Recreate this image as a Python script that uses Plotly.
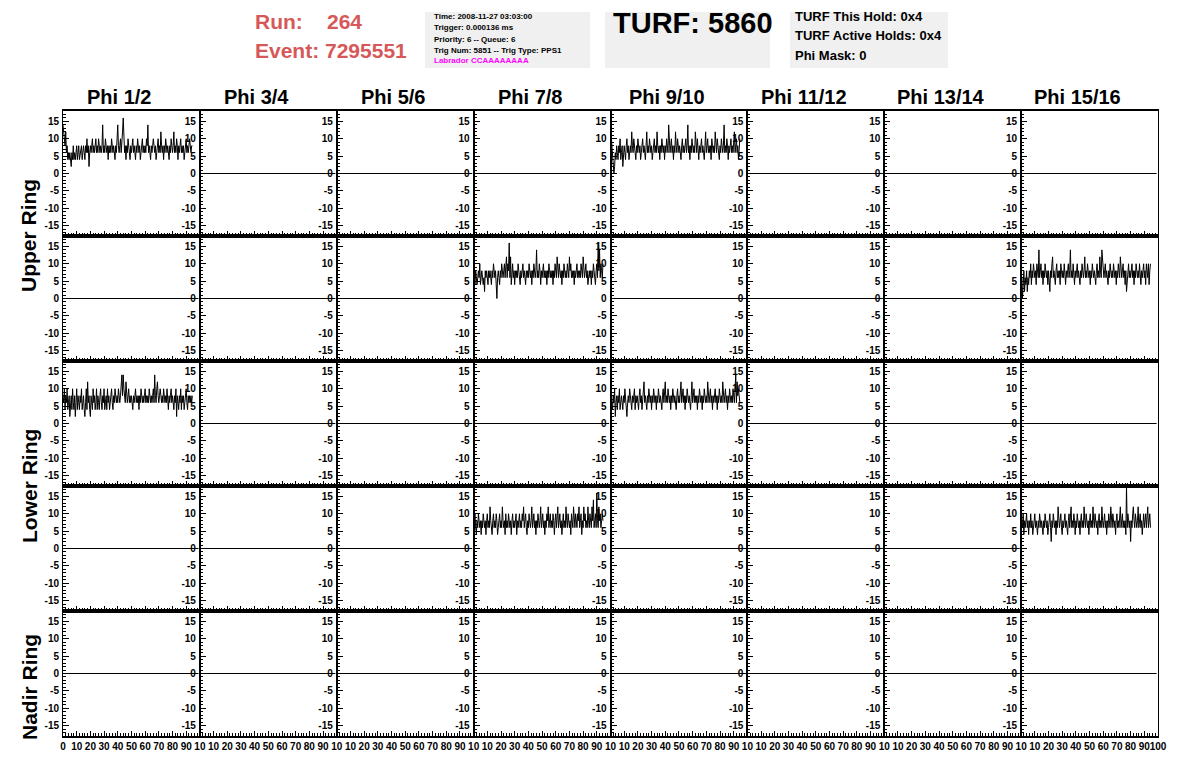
import plotly.graph_objects as go
from plotly.subplots import make_subplots

# ---------------- data ----------------
phi_labels = ["Phi 1/2", "Phi 3/4", "Phi 5/6", "Phi 7/8",
              "Phi 9/10", "Phi 11/12", "Phi 13/14", "Phi 15/16"]
ring_labels = ["Upper Ring", "Lower Ring", "Nadir Ring"]
x_tick_vals = [0, 10, 20, 30, 40, 50, 60, 70, 80, 90, 100]
y_tick_vals = [-15, -10, -5, 0, 5, 10, 15]
y_tick_text = ["-15", "-10", "-5", "0", "5", "10", "15"]
sample_step = 0.5  # horizontal units per sample

wave_upper_a_phi1 = [
    14, 12, 10, 8, 12, 6, 8, 4, 6, 4,
    6, 4, 2, 6, 4, 8, 4, 6, 4, 6,
    8, 4, 6, 8, 4, 6, 6, 8, 4, 6,
    8, 6, 4, 8, 6, 10, 6, 8, 2, 6,
    8, 6, 8, 10, 6, 8, 6, 8, 10, 6,
    8, 6, 10, 8, 6, 8, 6, 8, 14, 6,
    8, 6, 10, 8, 6, 8, 4, 8, 6, 8,
    6, 10, 8, 6, 8, 6, 4, 8, 6, 10,
    14, 8, 6, 8, 10, 6, 8, 12, 16, 8,
    6, 8, 4, 8, 6, 10, 8, 6, 4, 8,
    6, 8, 10, 6, 8, 6, 4, 8, 6, 10,
    8, 6, 8, 4, 6, 8, 10, 6, 8, 6,
    8, 6, 10, 8, 14, 6, 8, 6, 4, 8,
    6, 8, 10, 8, 6, 8, 4, 6, 8, 10,
    6, 8, 6, 12, 8, 6, 8, 4, 8, 6,
    10, 8, 6, 8, 6, 4, 8, 6, 10, 8,
    6, 8, 12, 6, 8, 6, 10, 8, 4, 8,
    6, 8, 10, 6, 8, 6, 8, 4, 6, 8,
    10, 6, 8, 6, 8, 10, 8, 6, 8, 8]
wave_upper_a_phi9 = [
    10, 12, 8, 6, 4, 0, 2, 6, 4, 8,
    6, 4, 8, 6, 10, 4, 6, 8, 2, 6,
    8, 6, 4, 8, 10, 6, 8, 4, 6, 8,
    6, 12, 8, 6, 10, 8, 6, 4, 8, 6,
    10, 8, 6, 8, 4, 6, 8, 10, 6, 8,
    6, 4, 8, 12, 6, 8, 6, 10, 8, 6,
    8, 4, 6, 8, 10, 6, 8, 6, 12, 8,
    6, 8, 4, 8, 6, 10, 8, 6, 8, 4,
    8, 6, 10, 8, 6, 14, 8, 6, 8, 10,
    6, 8, 4, 8, 6, 12, 8, 6, 10, 8,
    6, 8, 6, 4, 8, 10, 6, 8, 6, 8,
    10, 6, 8, 14, 6, 8, 4, 8, 6, 10,
    8, 6, 8, 6, 12, 8, 6, 10, 8, 4,
    8, 6, 8, 10, 6, 8, 6, 4, 8, 12,
    6, 8, 10, 6, 8, 6, 8, 4, 10, 8,
    6, 8, 6, 12, 8, 6, 10, 8, 6, 4,
    8, 6, 10, 8, 6, 8, 14, 6, 8, 6,
    10, 8, 4, 8, 6, 8, 10, 6, 8, 6,
    8, 12, 6, 8, 10, 6, 8, 4, 8, 10]
wave_upper_b_phi7 = [
    8, 6, 4, 8, 6, 4, 6, 8, 6, 10,
    4, 6, 8, 6, 4, 6, 2, 8, 6, 8,
    6, 4, 8, 6, 8, 6, 4, 8, 6, 10,
    8, 6, 8, 4, 0, 6, 8, 6, 4, 8,
    6, 10, 8, 6, 8, 10, 6, 8, 12, 6,
    10, 8, 16, 6, 12, 4, 8, 10, 6, 8,
    4, 8, 6, 8, 6, 10, 8, 6, 4, 8,
    6, 8, 10, 6, 8, 6, 4, 8, 6, 8,
    6, 10, 8, 6, 8, 4, 8, 6, 10, 8,
    6, 8, 14, 6, 8, 6, 10, 8, 4, 8,
    6, 8, 10, 6, 8, 6, 8, 4, 8, 6,
    10, 8, 6, 8, 6, 8, 4, 8, 6, 10,
    8, 6, 12, 8, 6, 10, 8, 6, 8, 4,
    8, 6, 10, 8, 6, 8, 6, 10, 8, 6,
    12, 8, 10, 6, 8, 6, 8, 4, 8, 6,
    8, 10, 6, 8, 6, 8, 6, 10, 8, 6,
    12, 8, 6, 8, 10, 6, 8, 4, 6, 8,
    6, 8, 4, 8, 6, 10, 8, 6, 4, 8,
    10, 6, 16, 8, 14, 6, 10, 8, 6, 10]
wave_upper_b_phi15 = [
    2, 6, 0, 4, 8, 2, 6, 4, 8, 2,
    6, 4, 8, 6, 10, 4, 8, 6, 10, 8,
    6, 8, 4, 10, 8, 6, 14, 6, 8, 10,
    6, 8, 4, 8, 6, 10, 8, 6, 8, 4,
    8, 6, 2, 8, 6, 10, 12, 6, 8, 6,
    4, 8, 10, 6, 8, 6, 8, 4, 10, 8,
    6, 8, 6, 10, 8, 4, 8, 6, 8, 10,
    6, 8, 14, 6, 8, 6, 10, 8, 4, 8,
    6, 8, 10, 6, 8, 6, 4, 8, 6, 10,
    8, 6, 8, 12, 6, 8, 6, 10, 8, 6,
    8, 4, 8, 6, 10, 8, 6, 8, 6, 4,
    8, 10, 6, 8, 6, 12, 8, 6, 14, 10,
    8, 6, 8, 10, 6, 8, 6, 4, 8, 6,
    10, 8, 6, 8, 6, 10, 8, 6, 8, 4,
    8, 6, 10, 8, 6, 12, 8, 6, 8, 10,
    6, 8, 4, 8, 2, 6, 8, 10, 6, 8,
    6, 8, 10, 6, 8, 4, 8, 6, 10, 8,
    6, 8, 6, 10, 8, 4, 8, 6, 8, 10,
    6, 8, 4, 10, 8, 6, 10, 4, 8, 10]
wave_lower_a_phi1 = [
    8, 6, 10, 4, 8, 6, 10, 4, 6, 8,
    2, 6, 8, 4, 10, 6, 4, 8, 2, 6,
    10, 4, 8, 6, 4, 8, 6, 10, 4, 6,
    8, 4, 2, 6, 10, 4, 12, 6, 8, 4,
    2, 8, 6, 4, 10, 6, 8, 4, 6, 10,
    4, 8, 6, 4, 8, 10, 6, 4, 8, 6,
    10, 4, 6, 8, 4, 10, 6, 8, 4, 6,
    8, 10, 6, 4, 8, 6, 10, 8, 6, 8,
    6, 10, 8, 6, 8, 10, 14, 8, 14, 10,
    8, 6, 12, 8, 6, 8, 10, 6, 8, 6,
    8, 6, 4, 8, 6, 8, 10, 6, 8, 6,
    8, 4, 8, 6, 10, 8, 6, 8, 6, 8,
    10, 6, 8, 6, 8, 6, 10, 8, 6, 8,
    6, 8, 10, 6, 14, 8, 6, 10, 12, 8,
    6, 8, 10, 8, 6, 8, 6, 10, 8, 6,
    8, 6, 10, 8, 4, 8, 6, 8, 10, 6,
    8, 6, 4, 8, 6, 10, 2, 8, 6, 4,
    8, 6, 10, 4, 8, 6, 8, 4, 6, 8,
    10, 6, 4, 8, 6, 8, 6, 8, 6, 8]
wave_lower_a_phi9 = [
    10, 8, 6, 4, 8, 6, 10, 2, 6, 8,
    4, 8, 6, 10, 4, 6, 8, 6, 4, 8,
    6, 10, 8, 4, 2, 6, 8, 6, 10, 8,
    6, 4, 8, 6, 8, 10, 4, 8, 6, 8,
    6, 4, 8, 10, 6, 8, 4, 6, 8, 12,
    6, 8, 6, 4, 8, 6, 10, 8, 6, 8,
    4, 8, 6, 10, 8, 6, 8, 4, 8, 6,
    10, 8, 6, 8, 6, 4, 8, 10, 6, 8,
    12, 6, 8, 6, 10, 8, 6, 8, 4, 8,
    6, 10, 8, 6, 8, 6, 4, 8, 10, 6,
    8, 6, 8, 12, 6, 8, 10, 6, 8, 4,
    8, 6, 10, 8, 6, 8, 6, 4, 8, 12,
    6, 8, 10, 6, 8, 6, 8, 4, 8, 6,
    10, 8, 6, 8, 4, 8, 6, 10, 8, 6,
    8, 6, 12, 8, 6, 8, 10, 6, 8, 4,
    8, 6, 8, 10, 6, 8, 4, 8, 6, 10,
    8, 6, 8, 6, 12, 8, 6, 8, 10, 6,
    8, 4, 8, 6, 10, 8, 6, 8, 6, 10,
    8, 6, 10, 14, 6, 12, 8, 10, 8, 6]
wave_lower_b_phi7 = [
    6, 8, 10, 6, 4, 8, 6, 10, 8, 6,
    8, 4, 8, 6, 10, 8, 6, 8, 4, 8,
    10, 6, 8, 6, 12, 8, 6, 4, 8, 10,
    6, 8, 6, 10, 8, 4, 6, 8, 10, 6,
    8, 6, 12, 8, 6, 8, 4, 10, 6, 8,
    6, 10, 8, 6, 8, 4, 8, 10, 6, 8,
    6, 8, 10, 4, 8, 6, 8, 10, 6, 8,
    6, 10, 8, 12, 6, 8, 10, 6, 4, 8,
    6, 10, 8, 6, 8, 12, 6, 8, 10, 6,
    8, 4, 8, 6, 10, 8, 6, 8, 12, 6,
    8, 10, 6, 8, 4, 8, 6, 10, 8, 12,
    6, 8, 10, 6, 8, 6, 10, 8, 4, 8,
    10, 6, 8, 12, 6, 8, 10, 6, 8, 4,
    8, 10, 6, 8, 6, 12, 8, 6, 10, 8,
    6, 8, 4, 10, 8, 6, 12, 8, 6, 10,
    8, 6, 10, 8, 12, 6, 8, 10, 4, 8,
    6, 12, 8, 10, 6, 8, 6, 12, 8, 6,
    10, 8, 6, 12, 8, 14, 6, 8, 10, 6,
    16, 8, 6, 12, 8, 10, 6, 8, 10, 8]
wave_lower_b_phi15 = [
    6, 8, 6, 10, 4, 8, 6, 8, 10, 6,
    8, 4, 8, 6, 10, 6, 8, 4, 6, 8,
    10, 6, 8, 6, 4, 8, 6, 10, 8, 6,
    8, 6, 4, 8, 6, 10, 8, 6, 8, 4,
    6, 8, 10, 6, 2, 8, 6, 10, 8, 6,
    8, 4, 8, 6, 12, 8, 6, 8, 10, 6,
    4, 8, 6, 8, 10, 6, 8, 6, 4, 8,
    10, 6, 8, 12, 6, 8, 6, 10, 8, 4,
    8, 6, 10, 8, 6, 8, 4, 8, 10, 6,
    8, 6, 12, 8, 6, 10, 8, 6, 8, 4,
    8, 10, 6, 8, 6, 12, 8, 6, 10, 8,
    6, 8, 4, 8, 10, 6, 8, 6, 12, 8,
    6, 8, 10, 6, 8, 4, 8, 6, 10, 8,
    6, 12, 8, 6, 10, 8, 6, 8, 4, 8,
    10, 6, 8, 6, 8, 12, 6, 8, 10, 6,
    8, 6, 8, 4, 18, 6, 10, 8, 6, 8,
    2, 8, 6, 10, 12, 8, 6, 10, 8, 6,
    8, 12, 6, 8, 10, 6, 8, 4, 8, 10,
    6, 8, 10, 6, 8, 12, 6, 8, 10, 6]

# empty channels: flat line at zero
flat_x = [0, 99]
flat_y = [0, 0]

waveforms = {
    (1, 1): wave_upper_a_phi1, (1, 5): wave_upper_a_phi9,
    (2, 4): wave_upper_b_phi7, (2, 8): wave_upper_b_phi15,
    (3, 1): wave_lower_a_phi1, (3, 5): wave_lower_a_phi9,
    (4, 4): wave_lower_b_phi7, (4, 8): wave_lower_b_phi15,
}

info_lines = ["Time: 2008-11-27 03:03:00", "Trigger: 0.000136 ms",
              "Priority: 6 -- Queue: 6", "Trig Num: 5851 -- Trig Type: PPS1"]
labrador_line = "Labrador CCAAAAAAAA"
turf_lines = ["TURF This Hold: 0x4", "TURF Active Holds: 0x4", "Phi Mask: 0"]

# ---------------- layout geometry (page pixels) ----------------
W, H = 1196, 772
PL, PR, PT, PB = 63, 1158, 111, 736
FONT = "Liberation Sans, Arial, Helvetica, sans-serif"
RED = "rgb(214,88,88)"


def px(xp):
    return (xp - PL) / (PR - PL)


def py(yp):
    return (PB - yp) / (PB - PT)


NR, NC = 5, 8
fig = make_subplots(rows=NR, cols=NC, horizontal_spacing=0, vertical_spacing=0)

for r in range(1, NR + 1):
    for c in range(1, NC + 1):
        if (r, c) in waveforms:
            yv = waveforms[(r, c)]
            xv = [i * sample_step for i in range(len(yv))]
        else:
            xv, yv = flat_x, flat_y
        fig.add_trace(go.Scatter(x=xv, y=yv, mode="lines",
                                 line=dict(color="black", width=1),
                                 hoverinfo="skip", showlegend=False),
                      row=r, col=c)

tick_font = dict(family=FONT, size=10, color="black", weight="bold")

fig.update_xaxes(range=[0, 100], showline=True, linecolor="black", linewidth=2,
                 mirror=True, ticks="inside", ticklen=5, tickwidth=1, tickcolor="black",
                 tickvals=x_tick_vals, showgrid=False, zeroline=False,
                 showticklabels=False, tickangle=0, tickfont=tick_font,
                 minor=dict(ticks="inside", ticklen=3, dtick=2, tick0=0,
                            tickcolor="black", showgrid=False))
fig.update_yaxes(range=[-18, 18], showline=True, linecolor="black", linewidth=1,
                 mirror=True, ticks="inside", ticklen=6, tickwidth=1, tickcolor="black",
                 tickvals=y_tick_vals, ticktext=y_tick_text, showgrid=False,
                 zeroline=False, showticklabels=True, tickfont=tick_font,
                 ticklabelstandoff=1,
                 minor=dict(ticks="inside", ticklen=3, dtick=1, tick0=0,
                            tickcolor="black", showgrid=False))

for c in range(1, NC + 1):
    texts = [str(v) for v in x_tick_vals]
    if c > 1:
        texts[0] = ""
    if c < NC:
        texts[-1] = "10"
    fig.update_xaxes(showticklabels=True, ticktext=texts, row=NR, col=c)

shapes = []
annotations = []

# column titles
col_w = (PR - PL) / NC
for i, lab in enumerate(phi_labels):
    annotations.append(dict(x=px(PL + col_w * (i + 0.5) - 12), y=py(97), text=lab,
                            xanchor="center", yanchor="middle",
                            font=dict(family=FONT, size=20, color="black", weight="bold")))

# ring labels
ring_pos = [236, 486, 687]
for lab, yc in zip(ring_labels, ring_pos):
    annotations.append(dict(x=px(29), y=py(yc), text=lab, textangle=-90,
                            xanchor="center", yanchor="middle",
                            font=dict(family=FONT, size=21, color="black", weight="bold")))

# header: run / event
hdr_font = dict(family=FONT, size=21, color=RED, weight="bold")
annotations += [
    dict(x=px(253), y=py(22), text="Run:", xanchor="left", yanchor="middle", font=hdr_font),
    dict(x=px(325), y=py(22), text="264", xanchor="left", yanchor="middle", font=hdr_font),
    dict(x=px(253), y=py(50), text="Event: 7295551", xanchor="left", yanchor="middle",
         font=hdr_font),
]

# info boxes
for x0, x1 in [(425, 590), (605, 770), (790, 948)]:
    shapes.append(dict(type="rect", xref="paper", yref="paper",
                       x0=px(x0), x1=px(x1), y0=py(68), y1=py(12),
                       fillcolor="#f0f0f0", line=dict(width=0), layer="below"))

small_font = dict(family=FONT, size=8, color="black", weight="bold")
for txt, yy in zip(info_lines, [17, 28, 39, 50]):
    annotations.append(dict(x=px(432), y=py(yy), text=txt, xanchor="left",
                            yanchor="middle", font=small_font))
annotations.append(dict(x=px(432), y=py(61), text=labrador_line, xanchor="left",
                        yanchor="middle",
                        font=dict(family=FONT, size=8, color="#ff00ff", weight="bold")))

annotations.append(dict(x=px(611), y=py(23), text="TURF: 5860", xanchor="left",
                        yanchor="middle",
                        font=dict(family=FONT, size=29, color="black", weight="bold")))

for txt, yy in zip(turf_lines, [17, 36, 55]):
    annotations.append(dict(x=px(793), y=py(yy), text=txt, xanchor="left",
                            yanchor="middle",
                            font=dict(family=FONT, size=13, color="black", weight="bold")))

for a in annotations:
    a.setdefault("xref", "paper")
    a.setdefault("yref", "paper")
    a.setdefault("showarrow", False)

fig.update_layout(width=W, height=H,
                  margin=dict(l=PL, r=W - PR, t=PT, b=H - PB, pad=0),
                  plot_bgcolor="white", paper_bgcolor="white",
                  shapes=shapes, annotations=annotations, showlegend=False)

# remove the browser's default page margin so the figure sits at the page origin
fig.write_html("out.html", config={"displayModeBar": False},
               post_script="document.body.style.margin='0px';")
